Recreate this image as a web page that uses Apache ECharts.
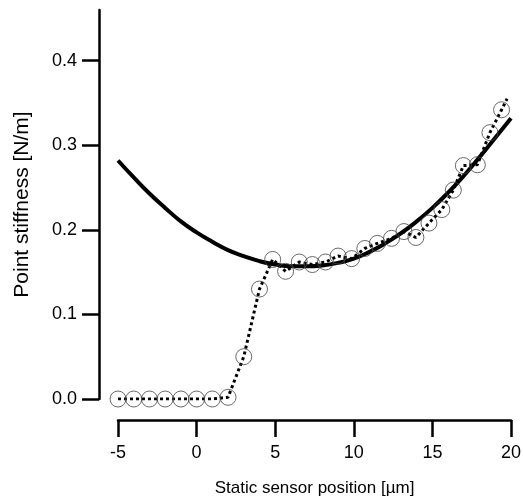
<!DOCTYPE html>
<html>
<head>
<meta charset="utf-8">
<script src="https://cdn.jsdelivr.net/npm/echarts@6/dist/echarts.min.js"></script>
<style>
  html, body { margin: 0; padding: 0; background: #fff; }
  #stiffnessChart { width: 523px; height: 500px; }
</style>
</head>
<body>
<div id="stiffnessChart"></div>
<script>
'use strict';

// measured points (circles)
var pointX = [-5, -4, -3, -2, -1, 0, 1, 2, 3, 4, 4.84, 5.66, 6.53, 7.36, 8.2, 9.0, 9.86, 10.7, 11.5, 12.4,
	13.19, 13.95, 14.78, 15.6, 16.33, 16.97, 17.86, 18.66, 19.4];
var pointY = [0, 0, 0, 0, 0, 0, 0, 0.002, 0.05, 0.13, 0.165, 0.151, 0.162, 0.159, 0.162, 0.169, 0.166, 0.178, 0.184, 0.190,
	0.198, 0.191, 0.208, 0.224, 0.247, 0.276, 0.277, 0.315, 0.342];

// dotted trace runs a bit past the last circle
var traceX = pointX.concat([19.75]);
var traceY = pointY.concat([0.355]);

// fitted curve, every 1 µm
var fitX = [-5, -4, -3, -2, -1, 0, 1, 2, 3, 4, 5, 6, 7, 8, 9, 10, 11, 12, 13, 14, 15, 16, 17, 18, 19, 20];
var fitY = [0.282, 0.262, 0.243, 0.226, 0.210, 0.197, 0.186, 0.176, 0.169, 0.163, 0.159, 0.157, 0.157, 0.158, 0.161,
	0.166, 0.174, 0.184, 0.196, 0.210, 0.226, 0.244, 0.264, 0.286, 0.309, 0.332];

var yTicks = [0, 0.1, 0.2, 0.3, 0.4];

var pairs = function(xs, ys){
	var out = [];
	for (var i = 0; i < xs.length; i++) {
		out.push([xs[i], ys[i]]);
	}
	return out;
};

var chart = echarts.init(document.getElementById('stiffnessChart'));
var font = 'Liberation Sans, Arial, sans-serif';

chart.setOption({
	animation: false,
	grid: {
		left: 118,
		right: 12,
		top: 10,
		bottom: 101,
		containLabel: false,
		outerBoundsMode: 'none'
	},
	xAxis: {
		type: 'value',
		min: -5,
		max: 20,
		interval: 5,
		offset: 21,
		name: 'Static sensor position [µm]',
		nameLocation: 'middle',
		nameGap: 60,
		nameTextStyle: { fontSize: 17, color: '#000', fontFamily: font },
		axisLine: { onZero: false, lineStyle: { color: '#000', width: 2.5 } },
		axisTick: { length: 17, lineStyle: { color: '#000', width: 2.5 } },
		axisLabel: { fontSize: 18, color: '#000', fontFamily: font, margin: 24 },
		splitLine: { show: false }
	},
	yAxis: {
		type: 'value',
		min: 0,
		max: 0.46,
		offset: 19,
		name: 'Point stiffness [N/m]',
		nameLocation: 'middle',
		nameGap: 66,
		nameTextStyle: { fontSize: 21, color: '#000', fontFamily: font },
		axisLine: { show: true, onZero: false, lineStyle: { color: '#000', width: 2.5 } },
		axisTick: { show: true, length: 17, customValues: yTicks, lineStyle: { color: '#000', width: 2.5 } },
		axisLabel: {
			fontSize: 18, color: '#000', fontFamily: font, margin: 22,
			customValues: yTicks,
			formatter: function(v){ return v.toFixed(1); }
		},
		splitLine: { show: false }
	},
	series: [
		{
			type: 'line',
			data: pairs(fitX, fitY),
			smooth: true,
			symbol: 'none',
			lineStyle: { color: '#000', width: 4 },
			z: 3
		},
		{
			type: 'line',
			data: pairs(traceX, traceY),
			symbol: 'none',
			lineStyle: { color: '#000', width: 3, type: [3, 3], cap: 'butt' },
			z: 2
		},
		{
			type: 'scatter',
			data: pairs(pointX, pointY),
			symbol: 'circle',
			symbolSize: 16,
			itemStyle: { color: 'rgba(0,0,0,0)', borderColor: '#444', borderWidth: 1 },
			z: 4
		}
	]
});
</script>
</body>
</html>
